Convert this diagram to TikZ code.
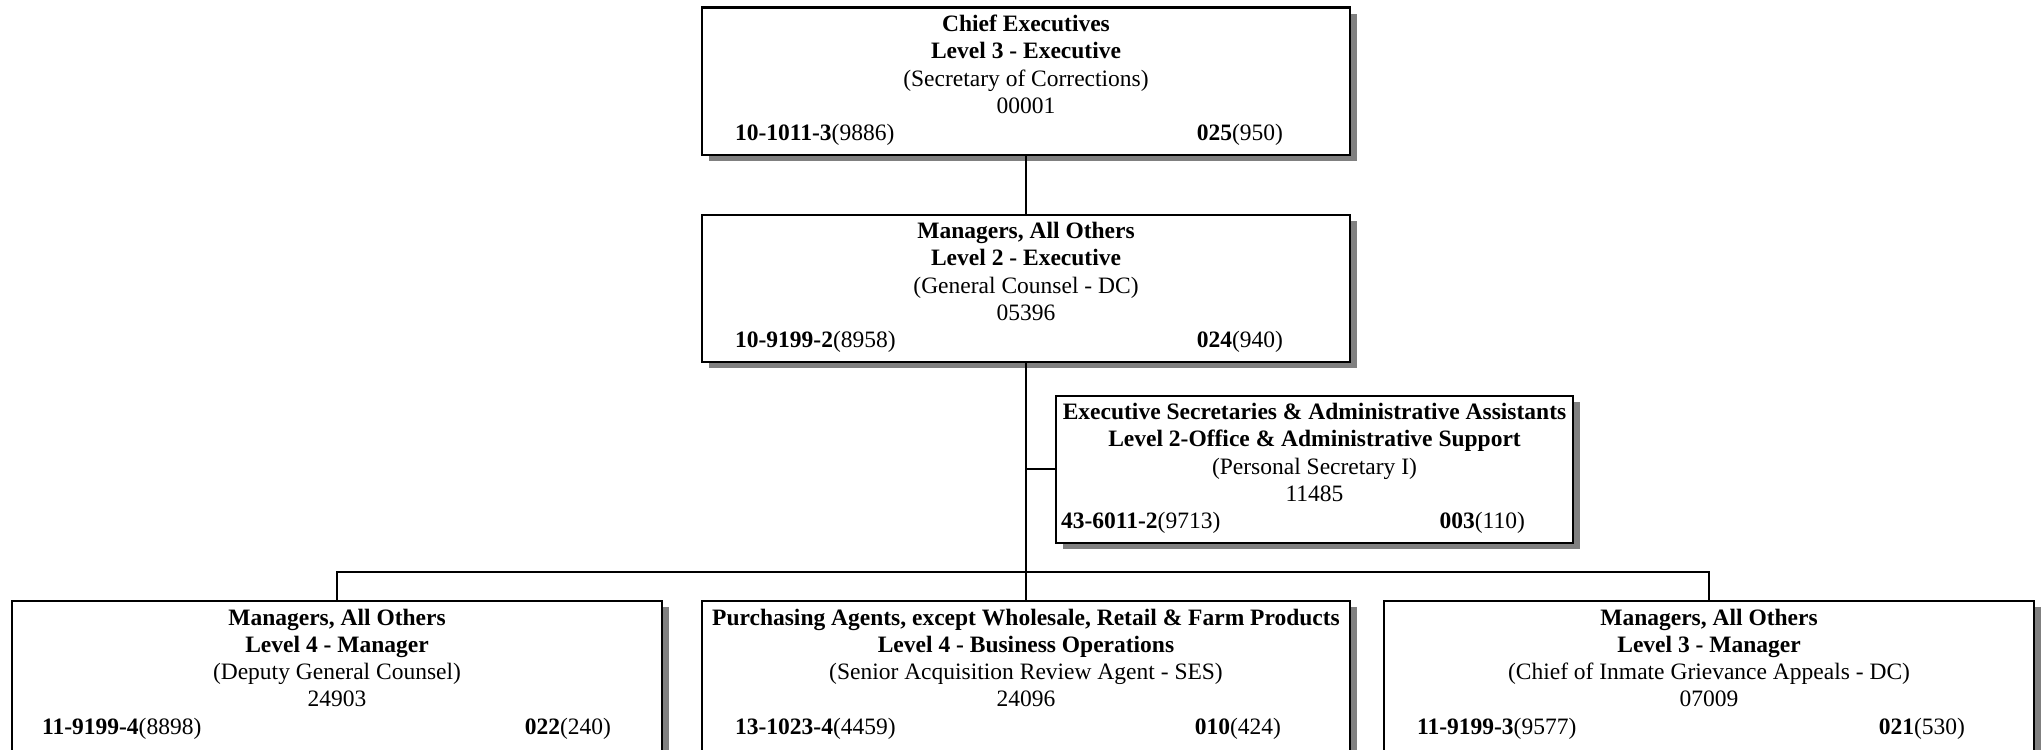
\documentclass[tikz,border=0pt]{standalone}
\usepackage{fontspec}
\setmainfont{Liberation Serif}
\usetikzlibrary{calc,shadows}

% Draw a position box: name, centre x, top y, width, height
\newcommand{\posbox}[5]{%
  \node[posframe, minimum width=#4pt, minimum height=#5pt, anchor=north] (#1) at (#2,#3) {};%
}
% Fill a position box: name, title, level, working title, position number,
% class code, pay code, left pad, right pad
\newcommand{\postext}[9]{%
  \node[txt, font=\fontsize{23.5}{27}\selectfont\bfseries] (#1-a) at ($(#1.north)+(0,25)$) {#2};
  \node[txt] (#1-b) at ($(#1.north)+(0,52.3)$) {\textbf{#3}};
  \node[txt] (#1-c) at ($(#1.north)+(0,79.6)$) {#4};
  \node[txt] (#1-d) at ($(#1.north)+(0,106.9)$) {#5};
  \node[txt, anchor=base west] (#1-e) at ($(#1.north west)+(#8,134.2)$) {#6};
  \node[txt, anchor=base east] (#1-f) at ($(#1.north east)+(-#9,134.2)$) {#7};
}

\begin{document}
\begin{tikzpicture}[x=1pt, y=-1pt,
  every node/.style={font=\fontsize{23.5}{27}\selectfont},
  txt/.style={inner sep=0pt, anchor=base},
  posframe/.style={draw=black, line width=2.2pt, fill=white, inner sep=0pt,
    drop shadow={shadow xshift=6.5pt, shadow yshift=-6pt, opacity=1, fill=black!50}},
  link/.style={draw=black, line width=2pt}]
\clip (0,0) rectangle (2041,749);
\fill[white] (0,0) rectangle (2041,749);

% boxes
\posbox{ceo}{1026}{6.5}{648}{147}
\posbox{gc}{1026}{213.5}{648}{147}
\posbox{sec}{1314.5}{394.5}{517}{147.5}
\posbox{dgc}{337}{600}{650}{170}
\posbox{acq}{1026}{600}{648}{170}
\posbox{gri}{1709}{600}{650}{170}

% connectors
\coordinate (bar) at (1026,571.5);
\draw[link] (ceo.south) -- (gc.north);
\draw[link] (gc.south) -- (bar);
\draw[link] (gc.south |- sec.west) -- (sec.west);
\draw[link] (dgc.north) -- (dgc.north |- bar) -- (gri.north |- bar) -- (gri.north);
\draw[link] (bar) -- (acq.north);

% texts
\postext{ceo}{Chief Executives}{Level 3 - Executive}{(Secretary of Corrections)}{00001}
  {\textbf{10-1011-3}(9886)}{\textbf{025}(950)}{34}{68}
\postext{gc}{Managers, All Others}{Level 2 - Executive}{(General Counsel - DC)}{05396}
  {\textbf{10-9199-2}(8958)}{\textbf{024}(940)}{34}{68}
\postext{sec}{Executive Secretaries \& Administrative Assistants}{Level 2-Office \& Administrative Support}{(Personal Secretary I)}{11485}
  {\textbf{43-6011-2}(9713)}{\textbf{003}(110)}{6}{49}
\postext{dgc}{Managers, All Others}{Level 4 - Manager}{(Deputy General Counsel)}{24903}
  {\textbf{11-9199-4}(8898)}{\textbf{022}(240)}{31}{52}
\postext{acq}{Purchasing Agents, except Wholesale, Retail \& Farm Products}{Level 4 - Business Operations}{(Senior Acquisition Review Agent - SES)}{24096}
  {\textbf{13-1023-4}(4459)}{\textbf{010}(424)}{34}{70}
\postext{gri}{Managers, All Others}{Level 3 - Manager}{(Chief of Inmate Grievance Appeals - DC)}{07009}
  {\textbf{11-9199-3}(9577)}{\textbf{021}(530)}{34}{70}
\end{tikzpicture}
\end{document}
